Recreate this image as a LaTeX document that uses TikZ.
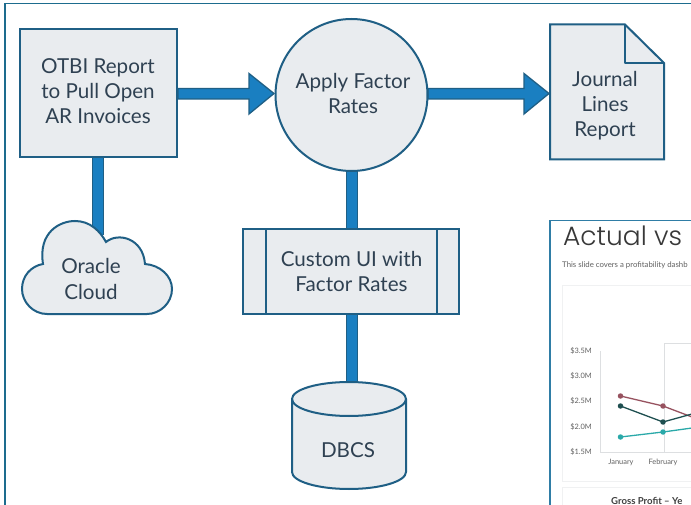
\documentclass[tikz,border=0pt]{standalone}
\usepackage{fontspec}
\setmainfont{Lato}
\newfontfamily\charttitlefont{Poppins Light}
\definecolor{edgeblue}{HTML}{1F5F85}
\definecolor{flowblue}{HTML}{1A7FC1}
\definecolor{shapefill}{HTML}{E9ECEF}
\definecolor{inktext}{HTML}{2F4152}
\definecolor{framecol}{HTML}{1D6C8E}
\definecolor{shotframe}{HTML}{2F7DA6}
\definecolor{panelline}{HTML}{F0F1F2}
\definecolor{axisline}{HTML}{DDDFE1}
\definecolor{serred}{HTML}{97525F}
\definecolor{serdark}{HTML}{1E4F50}
\definecolor{serteal}{HTML}{2AA9A9}
\tikzset{
 x=1pt,y=-1pt,
 shapebox/.style={draw=edgeblue,fill=shapefill,line width=2pt},
 shapethin/.style={draw=edgeblue,fill=shapefill,line width=2pt},
 labeltext/.style={font=\fontsize{20.6}{25.3}\selectfont,text=inktext,align=center,inner sep=0pt},
 flowline/.style={draw=flowblue,line width=10pt},
 flowedge/.style={draw=edgeblue,line width=12.5pt},
 flowarrow/.style={draw=edgeblue,fill=flowblue,line width=1.3pt,line join=miter},
 chartlabel/.style={font=\fontsize{7.4}{8}\selectfont,text=black!62,inner sep=0pt},
 seriesline/.style={line width=1.3pt},
 seriesdot/.style={circle,inner sep=0pt,minimum size=5.5pt}
}
\begin{document}
\begin{tikzpicture}
\useasboundingbox (0,0) rectangle (691,505);
\fill[white] (0,0) rectangle (691,505);
\draw[framecol,line width=1.4pt] (5,506) -- (5,3.5) -- (692,3.5);
% connectors
\coordinate (cloudtop) at (98,235);
\coordinate (otbibottom) at (98,158);
\draw[flowedge] (otbibottom) -- (cloudtop);
\draw[flowline] (otbibottom) -- (cloudtop);
\coordinate (circbottom) at (352,168);
\coordinate (dbtop) at (352,395);
\draw[flowedge] (circbottom) -- (dbtop);
\draw[flowline] (circbottom) -- (dbtop);
% arrows
\draw[flowarrow] (178,88.5) -- (249,88.5) -- (249,73.5) -- (274,93.5) -- (249,114) -- (249,99) -- (178,99) -- cycle;
\draw[flowarrow] (428,88.5) -- (524,88.5) -- (524,73.5) -- (549,93.5) -- (524,114) -- (524,99) -- (428,99) -- cycle;
% OTBI
\node[shapebox,minimum width=157pt,minimum height=128pt,inner sep=0pt] (otbi) at (98,93.5) {};
\node[labeltext] (otbitext) at (98,91) {OTBI Report\\to Pull Open\\AR Invoices};
% circle
\node[shapethin,circle,minimum size=152pt,inner sep=0pt] (apply) at (351.5,95) {};
\node[labeltext] (applytext) at (353,93.5) {Apply Factor\\Rates};
% doc
\draw[shapebox] (550,24.5) -- (625,24.5) -- (664,63) -- (664,159.5) -- (550,159.5) -- cycle;
\draw[edgeblue,line width=2pt,line join=round] (625,24.5) -- (625,63) -- (664,63);
\node[labeltext] (doctext) at (605,105.5) {Journal\\Lines\\Report};
% cloud
\draw[shapethin] (43,264) .. controls (38,232) and (60,221) .. (75,221) .. controls (90,221) and (100,231) .. (106,242)
 .. controls (118,232) and (143,238) .. (145,264) .. controls (160,265) and (172,276) .. (172,289)
 .. controls (172,303) and (160,314) .. (147,314) -- (47,314) .. controls (33,314) and (22,302) .. (22,289) .. controls (22,276) and (31,266) .. (43,264) -- cycle;
\node[labeltext] (cloudtext) at (91,279) {Oracle\\Cloud};
% UI
\node[shapebox,minimum width=216pt,minimum height=85pt,inner sep=0pt] (ui) at (351,271.5) {};
\draw[edgeblue,line width=2pt] (266,229) -- (266,314) (437,229) -- (437,314);
\node[labeltext] (uitext) at (351.5,271.5) {Custom UI with\\Factor Rates};
% DBCS
\draw[shapethin] (292,399) -- (292,472) arc[start angle=180,end angle=360,x radius=57pt,y radius=17pt] -- (406,399) arc[start angle=0,end angle=180,x radius=57pt,y radius=17pt] -- cycle;
\draw[edgeblue,line width=2pt] (292,399) arc[start angle=180,end angle=360,x radius=57pt,y radius=17pt];
\node[labeltext] (dbtext) at (348,450) {DBCS};
% embedded screenshot
\draw[shotframe,line width=1.8pt] (550,506) -- (550,220.5) -- (692,220.5);
\node[font=\charttitlefont\fontsize{26.5}{28}\selectfont,text=black!78,inner sep=0pt,anchor=base west] (shottitle) at (563,246) {Actual vs};
\node[chartlabel,font=\fontsize{7.8}{8}\selectfont,anchor=west] (shotsub) at (562,265.5) {This slide covers a profitability dashb};
\draw[panelline,line width=.8pt] (692,285) -- (562,285) -- (562,481) -- (692,481);
\draw[panelline,line width=.8pt] (692,487) -- (562,487) -- (562,506);
\draw[axisline,line width=.8pt] (600,351) -- (600,452) -- (692,452);
\draw[axisline,line width=.8pt] (692,343) -- (664,343) -- (664,452);
\foreach \lab/\ypos in {3.5/351,3.0/376,2.5/401,2.0/426.5,1.5/452}{
  \node[chartlabel,anchor=east] at (592,\ypos) {\$\lab M};
}
\node[chartlabel] (jan) at (621,462) {January};
\node[chartlabel] (feb) at (663,462) {February};
\draw[serred,seriesline] (620.5,396) -- (663,406) -- (692,417);
\draw[serdark,seriesline] (620.5,406) -- (663,422) -- (692,414);
\draw[serteal,seriesline] (620.5,437) -- (663,432) -- (692,428);
\foreach \px/\py in {620.5/396,663/406}{\node[seriesdot,fill=serred] at (\px,\py) {};}
\foreach \px/\py in {620.5/406,663/422}{\node[seriesdot,fill=serdark] at (\px,\py) {};}
\foreach \px/\py in {620.5/437,663/432}{\node[seriesdot,fill=serteal] at (\px,\py) {};}
\node[inner sep=0pt,anchor=west,font=\bfseries\fontsize{9.6}{10}\selectfont,text=black!75] (gross) at (611,500.5) {Gross Profit – Ye};
\end{tikzpicture}
\end{document}
